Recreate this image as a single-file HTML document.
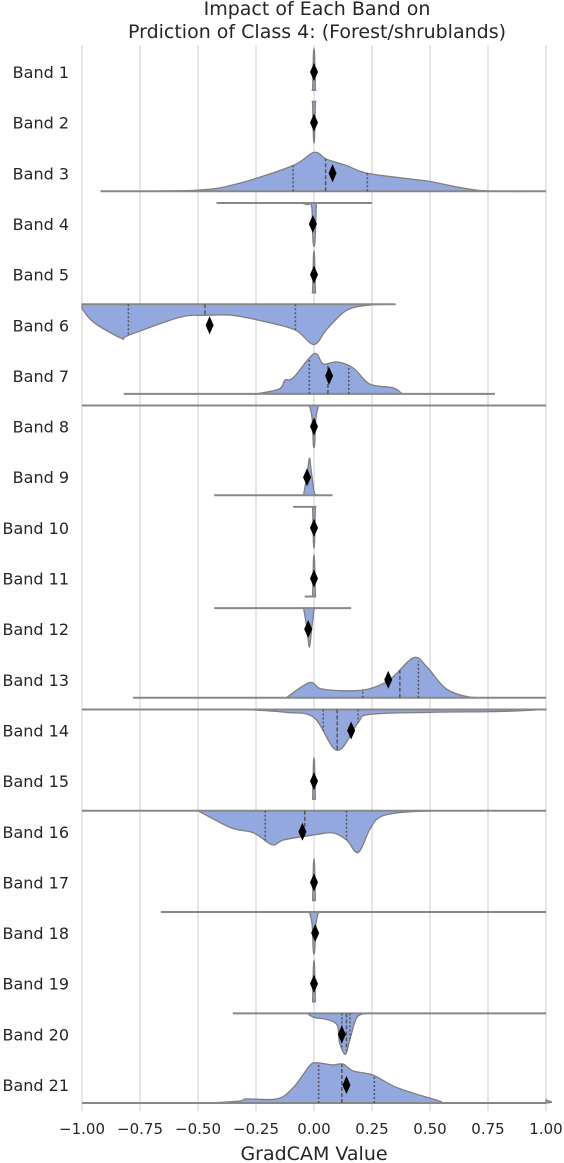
<!DOCTYPE html>
<html><head><meta charset="utf-8"><style>
body{margin:0;background:#fff;}
svg{display:block;font-family:"DejaVu Sans","Liberation Sans",sans-serif;}
</style></head><body>
<svg id="chart" width="564" height="1163"></svg>
<script>
const bandNames=["Band 1","Band 2","Band 3","Band 4","Band 5","Band 6","Band 7","Band 8","Band 9","Band 10","Band 11","Band 12","Band 13","Band 14","Band 15","Band 16","Band 17","Band 18","Band 19","Band 20","Band 21"];
const means=[0,0,0.08,-0.005,0,-0.45,0.065,0,-0.03,0,0,-0.025,0.32,0.16,0,-0.05,0,0.005,0,0.12,0.14];
const q1s=[null,null,-0.09,null,null,-0.8,-0.02,null,null,null,null,null,0.21,0.04,null,-0.21,null,null,null,0.12,0.02];
const medians=[null,null,0.05,null,null,-0.47,0.06,null,null,null,null,null,0.37,0.1,null,-0.04,null,null,null,0.14,0.12];
const q3s=[null,null,0.23,null,null,-0.08,0.15,null,null,null,null,null,0.45,0.19,null,0.14,null,null,null,0.155,0.26];
const mins=[-0.01,-0.01,-0.92,-0.42,-0.01,-1,-0.82,-1,-0.43,-0.09,-0.04,-0.43,-0.78,-1,-0.005,-1,-0.005,-0.66,-0.005,-0.35,-1];
const maxs=[0.01,0.01,1,0.25,0.01,0.35,0.78,1,0.08,0.01,0.01,0.16,1,1,0.005,1,0.005,1,0.005,1,1];
const spike=[[-0.006,0],[-0.002,0.9],[0.002,0.9],[0.006,0]];
const densities=[
 spike, spike,
 [[-0.9,0],[-0.5,0.03],[-0.32,0.2],[-0.09,0.63],[0,0.95],[0.055,0.78],[0.14,0.63],[0.23,0.44],[0.43,0.29],[0.5,0.24],[0.72,0.02],[1,0]],
 [[-0.06,0],[-0.03,0.04],[-0.01,0.1],[-0.004,0.95],[0.004,0.95],[0.01,0]],
 spike,
 [[-1,0.1],[-0.95,0.44],[-0.83,0.83],[-0.8,0.76],[-0.58,0.32],[-0.47,0.27],[-0.35,0.27],[-0.2,0.44],[-0.08,0.63],[0,0.98],[0.055,0.61],[0.14,0.15],[0.24,0.02],[0.35,0]],
 [[-0.25,0],[-0.15,0.12],[-0.125,0.34],[-0.09,0.39],[0,0.98],[0.04,0.73],[0.1,0.78],[0.17,0.63],[0.24,0.24],[0.34,0.15],[0.38,0]],
 [[-0.02,0],[-0.008,0.3],[-0.003,0.95],[0.003,0.95],[0.008,0.3],[0.02,0]],
 [[-0.045,0],[-0.03,0.5],[-0.02,0.9],[-0.012,0.6],[0,0.1],[0.01,0]],
 spike, spike,
 [[-0.045,0],[-0.03,0.5],[-0.02,0.95],[-0.01,0.5],[0,0.05],[0.01,0]],
 [[-0.12,0],[-0.02,0.37],[0.03,0.22],[0.14,0.17],[0.24,0.22],[0.33,0.46],[0.43,0.98],[0.49,0.73],[0.57,0.22],[0.67,0.02],[0.8,0]],
 [[-0.3,0],[-0.12,0.07],[0,0.2],[0.1,1],[0.19,0.32],[0.24,0.12],[0.5,0.07],[0.8,0.05],[1,0]],
 spike,
 [[-0.5,0],[-0.36,0.41],[-0.26,0.54],[-0.18,0.83],[-0.13,0.71],[0,0.59],[0.08,0.54],[0.14,0.71],[0.19,1.02],[0.24,0.46],[0.28,0.17],[0.36,0.05],[0.5,0]],
 spike,
 [[-0.02,0],[-0.008,0.3],[-0.003,0.95],[0.003,0.95],[0.008,0.3],[0.02,0]],
 spike,
 [[-0.03,0],[0,0.1],[0.055,0.15],[0.1,0.29],[0.11,0.71],[0.135,1],[0.155,0.63],[0.185,0.1],[0.23,0]],
 [[-0.45,0],[-0.32,0.05],[-0.29,0.1],[-0.16,0.1],[-0.09,0.37],[-0.02,0.9],[0.01,0.98],[0.08,0.93],[0.125,0.95],[0.17,0.78],[0.255,0.68],[0.36,0.37],[0.54,0.05],[0.57,0],[0.99,0],[1,0.07]]
];
const xTicks=[-1,-0.75,-0.5,-0.25,0,0.25,0.5,0.75,1];
const xTickLabels=["\u22121.00","\u22120.75","\u22120.50","\u22120.25","0.00","0.25","0.50","0.75","1.00"];

const svg=document.getElementById('chart');
const NS='http://www.w3.org/2000/svg';
const X0=82,X1=546,Ytop=72,Ystep=50.65,H=41;
function xs(v){return X0+(v+1)/2*(X1-X0);}
function yc(i){return Ytop+i*Ystep;}
function mk(t,a){const e=document.createElementNS(NS,t);for(const k in a)e.setAttribute(k,a[k]);svg.appendChild(e);return e;}

let t=mk('text',{x:317,y:15,'text-anchor':'middle','font-size':19,fill:'#262626'});t.textContent='Impact of Each Band on';


t=mk('text',{x:317,y:38,'text-anchor':'middle','font-size':19,fill:'#262626'});t.textContent='Prdiction of Class 4: (Forest/shrublands)';



xTicks.forEach((v,i)=>{
 const g=mk('line',{x1:xs(v),x2:xs(v),y1:45,y2:1111,stroke:'#cccccc','stroke-width':1});
 
 
 const l=mk('text',{x:xs(v),y:1134,'text-anchor':'middle','font-size':15,fill:'#262626'});
 l.textContent=xTickLabels[i];
 
 
});
t=mk('text',{x:314,y:1160,'text-anchor':'middle','font-size':19,fill:'#262626'});t.textContent='GradCAM Value';



function interp(d,v){
 for(let k=0;k<d.length-1;k++){if(v>=d[k][0]&&v<=d[k+1][0]){const f=(v-d[k][0])/(d[k+1][0]-d[k][0]);return d[k][1]+f*(d[k+1][1]-d[k][1]);}}
 return 0;
}
function smooth(pts){
 let p='';
 for(let k=0;k<pts.length-1;k++){
  const p0=pts[Math.max(k-1,0)],p1=pts[k],p2=pts[k+1],p3=pts[Math.min(k+2,pts.length-1)];
  const c1x=p1[0]+(p2[0]-p0[0])/6,c1y=p1[1]+(p2[1]-p0[1])/6;
  const c2x=p2[0]-(p3[0]-p1[0])/6,c2y=p2[1]-(p3[1]-p1[1])/6;
  p+=` C${c1x.toFixed(1)},${c1y.toFixed(1)} ${c2x.toFixed(1)},${c2y.toFixed(1)} ${p2[0].toFixed(1)},${p2[1].toFixed(1)}`;
 }
 return p;
}

bandNames.forEach((name,i)=>{
 const c=yc(i);
 const up=(i%2===0);
 const base=up?c+18:c-21;
 const s=up?-1:1;
 const lab=mk('text',{x:69,y:c+6,'text-anchor':'end','font-size':16,fill:'#262626'});
 lab.textContent=name;
 
 
 const d=densities[i];
 const pts=d.map(pt=>[xs(pt[0]),base+s*pt[1]*H]);
 let p='M'+xs(d[0][0])+','+base+' L'+pts[0][0].toFixed(1)+','+pts[0][1].toFixed(1)+smooth(pts)+' L'+xs(d[d.length-1][0])+','+base+' Z';
 const v=mk('path',{d:p,fill:'#94a8e0',stroke:'#7f7f7f','stroke-width':1.3});
 
 
 const bl=mk('line',{x1:xs(mins[i]),x2:xs(maxs[i]),y1:base,y2:base,stroke:'#888888','stroke-width':2});
 
 
 [[q1s[i],'2,2'],[medians[i],'4,2'],[q3s[i],'2,2']].forEach(q=>{
  if(q[0]===null)return;
  const h=interp(d,q[0])*H;
  const ql=mk('line',{x1:xs(q[0]),x2:xs(q[0]),y1:base,y2:base+s*h,stroke:'#555','stroke-width':1.5,'stroke-dasharray':q[1]});
  
  
 });
 const mx=xs(means[i]);
 const m=mk('path',{d:`M${mx},${c-9} L${mx+4},${c} L${mx},${c+9} L${mx-4},${c} Z`,fill:'#000'});
 
 
});
</script>
</body></html>
